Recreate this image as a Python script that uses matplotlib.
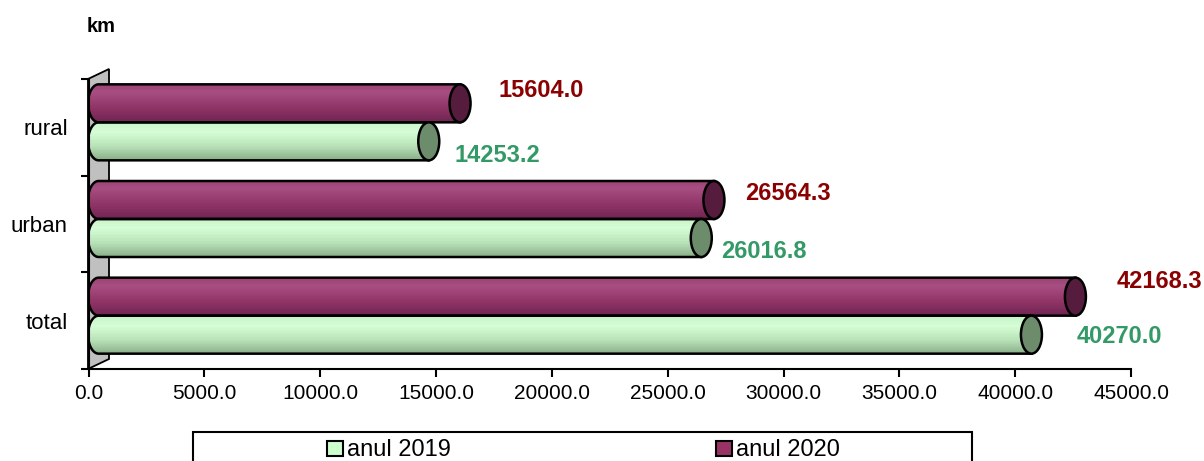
import numpy as np
import matplotlib.pyplot as plt
from matplotlib.patches import Ellipse, Polygon, Rectangle
from matplotlib.colors import to_rgb

categories = ['total', 'urban', 'rural']
series_names = ['anul 2019', 'anul 2020']
values_2019 = [40270.0, 26016.8, 14253.2]
values_2020 = [42168.3, 26564.3, 15604.0]
x_ticks = [0, 5000, 10000, 15000, 20000, 25000, 30000, 35000, 40000, 45000]

plt.rcParams['font.family'] = ['Liberation Sans', 'DejaVu Sans']

W, H = 1204, 461
fig = plt.figure(figsize=(W / 100, H / 100), dpi=100)
x0px, x1px, ybot, ytop = 88.6, 1131.0, 369.0, 79.0
ax = fig.add_axes([x0px / W, (H - ybot) / H, (x1px - x0px) / W, (ybot - ytop) / H])
ax.set_xlim(0, 45000)
ax.set_ylim(-0.5, 2.5)

ux = 45000 / (x1px - x0px)          # data units per pixel (x)
uy = 3 / (ybot - ytop)              # data units per pixel (y)


def px(xp, yp):
    return ((xp - x0px) * ux, (ybot - yp) * uy - 0.5)


# grey side wall
wall = Polygon([px(88, 79), px(109, 69), px(109, 359), px(88, 369)],
               closed=True, facecolor='#c0c0c0', edgecolor='black', lw=1.3,
               clip_on=False, zorder=1)
ax.add_patch(wall)

shift_x = 10 * ux
shift_y = 5 * uy
bar_h = 38 * uy
cap_a = 10.5 * ux


def gradient(stops, n=80):
    pos = [s[0] for s in stops]
    cols = np.array([to_rgb(s[1]) for s in stops])
    t = np.linspace(0, 1, n)
    img = np.stack([np.interp(t, pos, cols[:, k]) for k in range(3)], axis=1)
    stripe = 1 + 0.06 * ((np.arange(n) % 3) == 0)
    img = np.clip(img * stripe[:, None], 0, 1)
    return img[:, None, :]


grad_2019 = gradient([(0, '#86ab86'), (0.35, '#b4dcb4'), (0.75, '#d2fcd2'), (1, '#c4efc4')])
grad_2020 = gradient([(0, '#6e2450'), (0.4, '#8f3566'), (0.8, '#a54d80'), (1, '#98416f')])


def cylinder(value, yc, grad, cap_color):
    xa = shift_x
    xb = value + shift_x
    b = bar_h / 2
    t = np.linspace(0, np.pi, 40)
    pts = [(xa - cap_a * np.sin(s), yc + b * np.cos(s)) for s in t]
    pts += [(xb, yc - b), (xb, yc + b)]
    body = Polygon(pts, closed=True, facecolor='none', edgecolor='black', lw=1.8, zorder=3)
    ax.add_patch(body)
    im = ax.imshow(grad, extent=(xa - cap_a, xb, yc - b, yc + b), origin='lower',
                   aspect='auto', zorder=2, interpolation='bilinear')
    im.set_clip_path(body)
    cap = Ellipse((xb, yc), 2 * cap_a, bar_h, facecolor=cap_color, edgecolor='black',
                  lw=1.8, zorder=4)
    ax.add_patch(cap)


# label offsets in pixels (Excel places these a bit irregularly)
off_2020 = [(51, 15), (41, 7), (48, 12.5)]
off_2019 = [(55, -2), (30, -14), (36, -14)]

for i, cat in enumerate(categories):
    yc = i + shift_y
    cylinder(values_2020[i], yc + bar_h / 2, grad_2020, '#551c3d')
    cylinder(values_2019[i], yc - bar_h / 2, grad_2019, '#6c8c6c')
    ax.annotate(f'{values_2020[i]:.1f}', xy=(values_2020[i], yc + bar_h / 2),
                xytext=off_2020[i], textcoords='offset pixels', ha='left', va='center',
                fontsize=17, fontweight='bold', color='#8b0000', annotation_clip=False)
    ax.annotate(f'{values_2019[i]:.1f}', xy=(values_2019[i], yc - bar_h / 2),
                xytext=off_2019[i], textcoords='offset pixels', ha='left', va='center',
                fontsize=17, fontweight='bold', color='#339966', annotation_clip=False)

ax.set_xticks(x_ticks)
ax.set_xticklabels([f'{v:.1f}' for v in x_ticks], fontsize=15)
ax.set_yticks([0, 1, 2])
ax.set_yticklabels(categories, fontsize=16)
ax.set_yticks([-0.5, 0.5, 1.5, 2.5], minor=True)
ax.tick_params(axis='y', which='major', length=0, pad=15)
ax.tick_params(axis='y', which='minor', length=6, width=1.5, direction='out')
ax.tick_params(axis='x', length=6, width=1.5, direction='out', pad=5)
for side in ['top', 'right']:
    ax.spines[side].set_visible(False)
ax.spines['left'].set_linewidth(1.5)
ax.spines['bottom'].set_linewidth(1.5)
ax.spines['left'].set_zorder(5)
ax.patch.set_visible(False)

fig.text(87 / W, 1 - 26 / H, 'km', fontsize=14.5, fontweight='bold', ha='left', va='center')

# legend box (cut by the bottom edge)
fig.patches.append(Rectangle((193 / W, -0.05), (972 - 193) / W, 0.05 + (H - 432) / H,
                             transform=fig.transFigure, facecolor='white',
                             edgecolor='black', lw=1.5))
leg_colors = ['#ccffcc', '#993366']
leg_x = [327, 716]
for name, col, lx in zip(series_names, leg_colors, leg_x):
    fig.patches.append(Rectangle((lx / W, (H - 456) / H), 16 / W, 15 / H,
                                 transform=fig.transFigure, facecolor=col,
                                 edgecolor='black', lw=1.5))
    fig.text((lx + 20) / W, (H - 456) / H, name, fontsize=17, ha='left', va='baseline')

fig.savefig('out.png', dpi=100)
